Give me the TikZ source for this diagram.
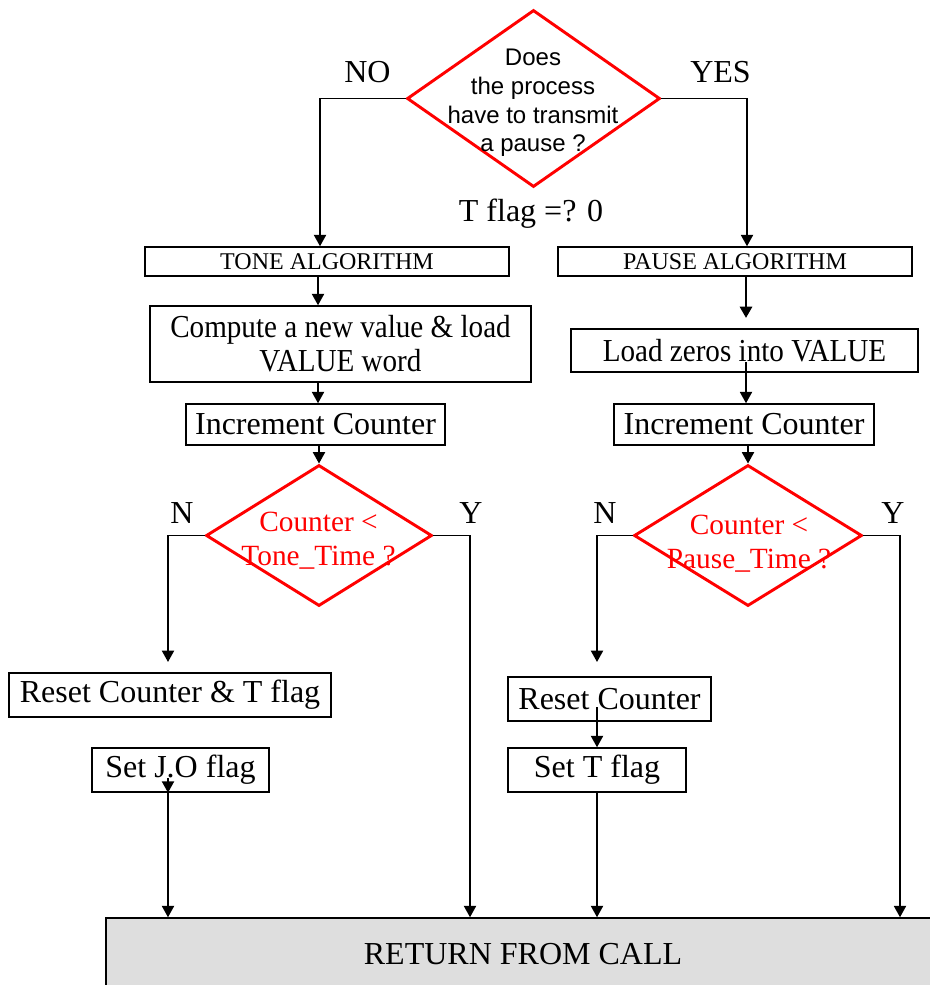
\documentclass[tikz,border=0pt]{standalone}
\usepackage{fontspec}
\setmainfont{Liberation Serif}
\newfontfamily\arialfont{Liberation Sans}
\newfontfamily\narrowserif[FakeStretch=0.91]{Liberation Serif}
\usetikzlibrary{shapes.geometric,arrows.meta}

\begin{document}
\begin{tikzpicture}[x=0.75pt,y=-0.75pt,
  box/.style={draw,line width=1.1pt,fill=white,inner sep=0pt,
              font=\fontsize{24}{25.5}\selectfont,align=center},
  narrowbox/.style={box,font=\narrowserif\fontsize{24}{25.5}\selectfont},
  smallbox/.style={box,font=\fontsize{18}{20}\selectfont},
  qdia/.style={diamond,draw=red,line width=2.2pt,inner sep=0pt},
  sanstxt/.style={font=\arialfont\fontsize{18}{21.4}\selectfont,align=center,inner sep=0pt},
  redtxt/.style={text=red,font=\fontsize{22}{25.5}\selectfont,align=center,inner sep=0pt},
  lbl/.style={font=\fontsize{24}{28}\selectfont,inner sep=0pt},
  conn/.style={line width=1.4pt,-{Triangle[length=8.5pt,width=9pt]}},
  retbox/.style={draw,line width=1.1pt,fill=black!13,inner sep=0pt,
                 font=\fontsize{24}{28}\selectfont}]
\useasboundingbox (0,0) rectangle (929,985);

% top decision
\node[qdia,minimum width=189.75pt,minimum height=132.75pt] (q) at (533.5,98.5) {};
\node[sanstxt] (qt) at (533,103) {Does\\the process\\have to transmit\\a pause ?};
\node[lbl] (no) at (367.5,72) {NO};
\node[lbl] (yes) at (720.5,72) {YES};
\node[lbl] (tf) at (531,214) {T flag =? 0};

% algorithm headers
\node[smallbox,minimum width=273pt,minimum height=21.75pt] (tone) at (327,261.5) {TONE ALGORITHM};
\node[smallbox,minimum width=265.5pt,minimum height=21.75pt] (pause) at (735,261.5) {PAUSE ALGORITHM};

% value computation
\node[narrowbox,minimum width=285.75pt,minimum height=57pt] (comp) at (340.5,344) {Compute a new value \& load\\VALUE word};
\node[narrowbox,minimum width=260.25pt,minimum height=32.25pt] (load) at (744.5,350.5) {Load zeros into VALUE};

% counters
\node[box,minimum width=194.25pt,minimum height=30.75pt] (incl) at (315.5,424.5) {Increment Counter};
\node[box,minimum width=195pt,minimum height=30.75pt] (incr) at (744,424.5) {Increment Counter};

% counter tests
\node[qdia,minimum width=169.5pt,minimum height=105.75pt] (cl) at (319,535.5) {};
\node[redtxt] (clt) at (318.5,541) {Counter <\\Tone\_Time ?};
\node[qdia,minimum width=171pt,minimum height=105.75pt] (cr) at (748,535.5) {};
\node[redtxt] (crt) at (749,544) {Counter <\\Pause\_Time ?};
\node[lbl] (nl) at (182,513) {N};
\node[lbl] (yl) at (471,513) {Y};
\node[lbl] (nr) at (605,513) {N};
\node[lbl] (yr) at (893,513) {Y};

% resets
\node[box,minimum width=241.5pt,minimum height=33pt] (resl) at (170,695) {Reset Counter \& T flag};
\node[box,minimum width=132.75pt,minimum height=33pt] (setjo) at (180.5,770) {Set J.O flag};
\node[box,minimum width=152.25pt,minimum height=33pt] (resr) at (609.5,699) {Reset Counter};
\node[box,minimum width=133.5pt,minimum height=33pt] (sett) at (597,770) {Set T flag};

% exit
\node[retbox,minimum width=625.5pt,minimum height=54pt] (ret) at (523,954) {RETURN FROM CALL};

% connector end points
\coordinate (ldtip) at (746,318);
\coordinate (ldout) at (746,362);
\coordinate (rltip) at (168,662);
\coordinate (rrtip) at (597,662);
\coordinate (jofrom) at (168,778);
\coordinate (rrout) at (597,707);

% connectors
\draw[conn] (q.west) -| (320,0 |- tone.north);
\draw[conn] (q.east) -| (747,0 |- pause.north);
\draw[conn] (318,0 |- tone.south) -- (318,0 |- comp.north);
\draw[conn,line width=2.2pt] (746,0 |- pause.south) -- (ldtip);
\draw[conn] (318,0 |- comp.south) -- (318,0 |- incl.north);
\draw[conn] (ldout) -- (746,0 |- incr.north);
\draw[conn] (319,0 |- incl.south) -- (cl.north);
\draw[conn] (748,0 |- incr.south) -- (cr.north);

\draw[conn] (cl.west) -| (rltip);
\draw[conn] (cl.east) -| (470,0 |- ret.north);
\draw[conn] (cr.west) -| (rrtip);
\draw[conn] (cr.east) -| (900,0 |- ret.north);

\draw[conn] (jofrom) -- (168,0 |- setjo.south);
\draw[conn] (168,0 |- setjo.south) -- (168,0 |- ret.north);
\draw[conn] (rrout) -- (597,0 |- sett.north);
\draw[conn] (597,0 |- sett.south) -- (597,0 |- ret.north);
\end{tikzpicture}
\end{document}
